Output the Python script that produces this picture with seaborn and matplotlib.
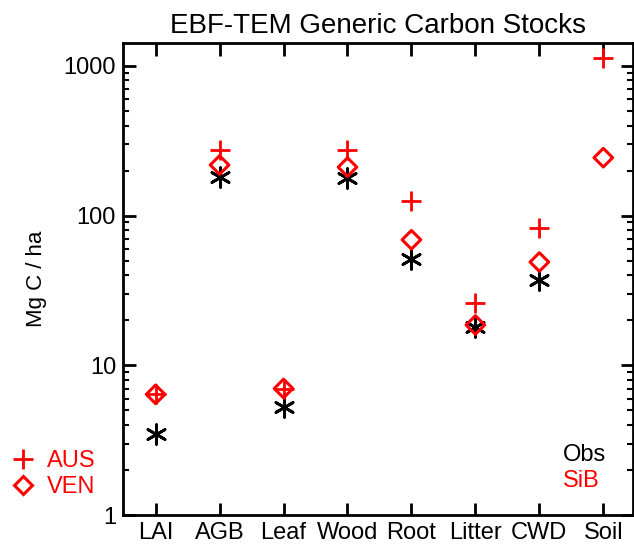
import numpy as np
import pandas as pd
import matplotlib
matplotlib.use("Agg")
import matplotlib.pyplot as plt
from matplotlib.lines import Line2D
from matplotlib.ticker import LogLocator, FixedLocator, FixedFormatter, NullFormatter
import seaborn as sns

# Carbon pools (LAI is unitless, the rest in Mg C / ha)
categories = ["LAI", "AGB", "Leaf", "Wood", "Root", "Litter", "CWD", "Soil"]
obs = [3.5, 182, 5.3, 178, 51, 18.0, 37, np.nan]
sib_aus = [6.4, 275, 7.0, 275, 126, 26, 83, 1130]
sib_ven = [6.4, 218, 7.0, 211, 69, 18.6, 49, 244]

y_ticks = [1, 10, 100, 1000]
y_ticklabels = ["1", "10", "100", "1000"]

sns.set_theme(style="white")
plt.rcParams["font.family"] = ["Liberation Sans", "DejaVu Sans"]
plt.rcParams["text.color"] = "black"
plt.rcParams["axes.labelcolor"] = "black"

df = pd.DataFrame({"pool": categories, "Obs": obs, "AUS": sib_aus, "VEN": sib_ven})

fig = plt.figure(figsize=(6.34, 5.47), dpi=100)
ax = fig.add_axes([123 / 634, 1 - 515 / 547, 1 - 123 / 634 - 0.002, (515 - 43) / 547])

sns.scatterplot(data=df, x="pool", y="Obs", ax=ax, marker=(6, 2, 0), s=200,
                color="black", edgecolor="black", linewidth=2.0, zorder=3)
sns.scatterplot(data=df, x="pool", y="VEN", ax=ax, marker="D", s=90,
                facecolor="none", edgecolor="red", linewidth=2.2, zorder=4)
sns.scatterplot(data=df, x="pool", y="AUS", ax=ax, marker="+", s=210,
                color="red", linewidth=2.0, zorder=5)

ax.set_yscale("log")
ax.set_ylim(1, 1424)
ax.set_xlim(-0.51, 7.46)

ax.yaxis.set_major_locator(FixedLocator(y_ticks))
ax.yaxis.set_major_formatter(FixedFormatter(y_ticklabels))
ax.yaxis.set_minor_locator(LogLocator(base=10, subs=np.arange(2, 10)))
ax.yaxis.set_minor_formatter(NullFormatter())

ax.set_xticks(range(len(categories)))
ax.set_xticklabels(categories)

for side in ["left", "right", "top", "bottom"]:
    ax.spines[side].set_visible(True)
    ax.spines[side].set_color("black")
    ax.spines[side].set_linewidth(2.0)

ax.tick_params(axis="both", which="major", direction="in", length=9, width=2,
               colors="black", labelsize=17, top=True, right=True,
               left=True, bottom=True, labelcolor="black", pad=5)
ax.tick_params(axis="y", which="minor", direction="in", length=4.5, width=1.5,
               left=True, right=True, colors="black")
ax.tick_params(axis="x", which="minor", bottom=False, top=False)

ax.set_xlabel("")
ax.set_ylabel("Mg C / ha", fontsize=16, labelpad=12, color="black")
ax.set_title("EBF-TEM Generic Carbon Stocks", fontsize=20, pad=7, color="black")

# Site key (markers) and source key (colours)
handles = [
    Line2D([], [], linestyle="none", marker="+", markersize=14, markeredgewidth=2,
           color="red"),
    Line2D([], [], linestyle="none", marker="D", markersize=9, markeredgewidth=2.2,
           markerfacecolor="none", markeredgecolor="red"),
]
fig.legend(handles, ["AUS", "VEN"], loc="lower left",
           bbox_to_anchor=(4 / 634, 1 - 505 / 547), frameon=False, fontsize=17,
           labelcolor="red", handlelength=1.0, handletextpad=0.5,
           borderaxespad=0.0, labelspacing=0.15, borderpad=0.3)

ax.text(0.863, 0.128, "Obs", transform=ax.transAxes, color="black",
        fontsize=17, ha="left", va="center")
ax.text(0.863, 0.071, "SiB", transform=ax.transAxes, color="red",
        fontsize=17, ha="left", va="center")

fig.savefig("out.png", dpi=100, facecolor="white")
